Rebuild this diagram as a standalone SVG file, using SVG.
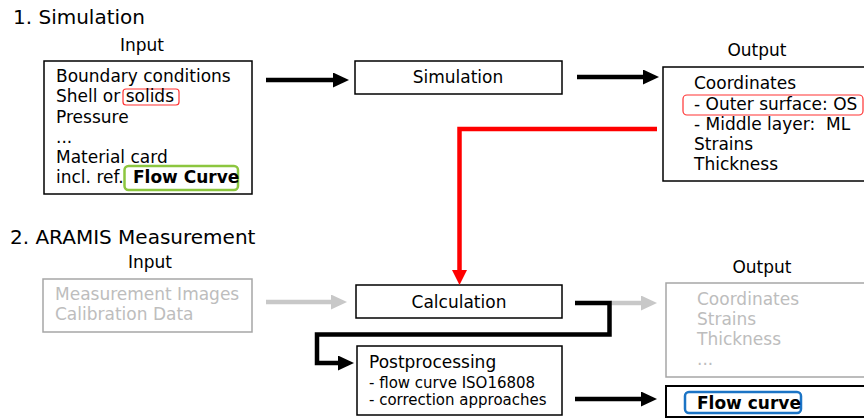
<svg xmlns="http://www.w3.org/2000/svg" width="864" height="419" viewBox="0 0 864 419">
<style>
text{font-family:"DejaVu Sans","Verdana",sans-serif;font-size:17px;fill:#000}
.t{font-size:20px}
.b{font-weight:bold}
.g{fill:#bdbdbd}
.s{font-size:15px}
.box{fill:#fff;stroke:#000;stroke-width:1.5}
.gbox{fill:#fff;stroke:#a6a6a6;stroke-width:1.5}
.hl{fill:none}
.k{fill:none;stroke:#000;stroke-width:4.5}
.gr{fill:none;stroke:#c8c8c8;stroke-width:4.5}
.rd{fill:none;stroke:#ff0000;stroke-width:4.5}
</style>
<defs>
<marker id="ak" markerUnits="userSpaceOnUse" markerWidth="17" markerHeight="16" refX="1" refY="7.5" orient="auto"><path d="M0,0 L16,7.5 L0,15 z" fill="#000"/></marker>
<marker id="ag" markerUnits="userSpaceOnUse" markerWidth="17" markerHeight="16" refX="1" refY="7.5" orient="auto"><path d="M0,0 L16,7.5 L0,15 z" fill="#c8c8c8"/></marker>
<marker id="ar" markerUnits="userSpaceOnUse" markerWidth="17" markerHeight="16" refX="1" refY="7.5" orient="auto"><path d="M0,0 L15,7.5 L0,15 z" fill="#ff0000"/></marker>
</defs>
<rect width="864" height="419" fill="#fff"/>
<text class="t" x="13" y="24">1. Simulation</text>
<text class="t" x="10" y="244">2. ARAMIS Measurement</text>
<g id="sim-input">
<text x="142" y="51" text-anchor="middle">Input</text>
<rect class="box" x="44" y="61" width="208" height="133"/>
<rect x="123" y="89" width="56" height="16" rx="3" fill="none" stroke="#ff3333" stroke-width="1.2"/>
<rect x="124.5" y="166" width="113.5" height="24" rx="4" fill="none" stroke="#8cc63f" stroke-width="2.5"/>
<text x="56" y="82">Boundary conditions</text>
<text x="56" y="102">Shell or solids</text>
<text x="56" y="123">Pressure</text>
<text x="56" y="143">...</text>
<text x="56" y="163">Material card</text>
<text x="56" y="183">incl. ref. <tspan class="b" x="133">Flow Curve</tspan></text>
</g>
<g id="simulation">
<rect class="box" x="355" y="61" width="207" height="33"/>
<text x="458" y="83" text-anchor="middle">Simulation</text>
</g>
<g id="sim-output">
<text x="757" y="56" text-anchor="middle">Output</text>
<rect class="box" x="663" y="67" width="205" height="114"/>
<rect x="683" y="95" width="180" height="20" rx="4" fill="none" stroke="#ff3333" stroke-width="1.2"/>
<text x="694" y="89">Coordinates</text>
<text x="694" y="110">- Outer surface: OS</text>
<text x="694" y="130" xml:space="preserve">- Middle layer:  ML</text>
<text x="694" y="150">Strains</text>
<text x="694" y="170">Thickness</text>
</g>
<g id="aramis-input">
<text x="150" y="268" text-anchor="middle">Input</text>
<rect class="gbox" x="43" y="279" width="209" height="53"/>
<text class="g" x="55" y="300">Measurement Images</text>
<text class="g" x="55" y="320">Calibration Data</text>
</g>
<g id="calculation">
<rect class="box" x="356" y="285" width="206" height="33"/>
<text x="459" y="308" text-anchor="middle">Calculation</text>
</g>
<g id="postprocessing">
<rect class="box" x="357" y="346" width="205" height="69"/>
<text x="369" y="368">Postprocessing</text>
<text class="s" x="369" y="388">- flow curve ISO16808</text>
<text class="s" x="369" y="405">- correction approaches</text>
</g>
<g id="aramis-output">
<text x="762" y="273" text-anchor="middle">Output</text>
<rect class="gbox" x="666" y="283" width="202" height="94"/>
<text class="g" x="697" y="305">Coordinates</text>
<text class="g" x="697" y="325">Strains</text>
<text class="g" x="697" y="345">Thickness</text>
<text class="g" x="697" y="365">...</text>
</g>
<g id="flow-curve">
<rect x="666" y="386" width="202" height="31" fill="#fff" stroke="#000" stroke-width="2"/>
<rect x="685" y="392" width="116" height="21" rx="4" fill="none" stroke="#1b74c5" stroke-width="2.5"/>
<text class="b" x="697" y="409">Flow curve</text>
</g>
<g id="connectors">
<path class="k" d="M266,80 H334" marker-end="url(#ak)"/>
<path class="k" d="M577,77 H644" marker-end="url(#ak)"/>
<path class="rd" d="M657,129 H459.5 V271" marker-end="url(#ar)"/>
<path class="gr" d="M266,302 H332" marker-end="url(#ag)"/>
<path class="gr" d="M611,303 H642" marker-end="url(#ag)"/>
<path class="k" d="M575,303 H609.5 V334.5 H317 V363 H339" marker-end="url(#ak)"/>
<path class="k" d="M575,399 H642" marker-end="url(#ak)"/>
</g>
</svg>
